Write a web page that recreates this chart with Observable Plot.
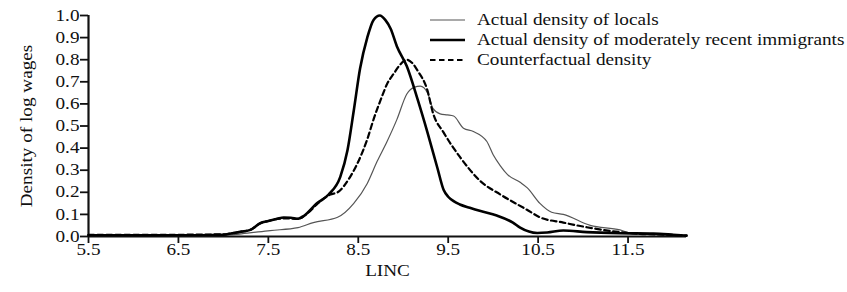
<!DOCTYPE html>
<html>
<head>
<meta charset="utf-8">
<script src="https://cdn.jsdelivr.net/npm/d3@7"></script>
<script src="https://cdn.jsdelivr.net/npm/@observablehq/plot@0.6"></script>
<style>
  html, body { margin: 0; padding: 0; background: #fff; }
  #wrap { position: relative; width: 847px; height: 292px; font-family: "Liberation Serif", "Times New Roman", serif; }
  #legend { position: absolute; left: 430px; top: 10px; }
  .row { position: absolute; left: 0; height: 20px; white-space: nowrap; }
  .row svg { position: absolute; left: 0; top: 0; }
  .row span { position: absolute; left: 47px; top: 0; font-size: 16px; line-height: 20px; color: #111;
              display: inline-block; transform: scaleX(1.2); transform-origin: left center; }
</style>
</head>
<body>
<div id="wrap"></div>
<script>
// ---- data ----
const xTicks = [5.5, 6.5, 7.5, 8.5, 9.5, 10.5, 11.5];
const yTicks = [0, 0.1, 0.2, 0.3, 0.4, 0.5, 0.6, 0.7, 0.8, 0.9, 1.0];
const seriesNames = [
  "Actual density of locals",
  "Actual density of moderately recent immigrants",
  "Counterfactual density"
];

const localsX = [5.5, 6.5, 7.0, 7.2, 7.52, 7.83, 8.0, 8.27, 8.45, 8.6, 8.71, 8.82, 8.93, 9.04, 9.12, 9.19, 9.27, 9.33, 9.41, 9.49, 9.56, 9.67, 9.78, 9.93, 10.0, 10.08, 10.16, 10.3, 10.38, 10.52, 10.65, 10.78, 11.08, 11.41, 11.55, 12.0, 12.15];
const localsY = [0.003, 0.003, 0.005, 0.012, 0.027, 0.04, 0.063, 0.087, 0.15, 0.24, 0.34, 0.43, 0.53, 0.645, 0.675, 0.68, 0.65, 0.58, 0.555, 0.55, 0.545, 0.49, 0.475, 0.43, 0.37, 0.32, 0.28, 0.245, 0.22, 0.15, 0.11, 0.1, 0.05, 0.03, 0.013, 0.006, 0.003];

const immX = [5.5, 6.0, 6.5, 7.0, 7.1, 7.2, 7.3, 7.41, 7.5, 7.6, 7.67, 7.75, 7.83, 7.9, 8.04, 8.17, 8.3, 8.38, 8.45, 8.52, 8.6, 8.67, 8.74, 8.8, 8.86, 8.93, 9.04, 9.16, 9.27, 9.38, 9.45, 9.5, 9.56, 9.63, 9.74, 9.86, 10.04, 10.22, 10.3, 10.49, 10.6, 10.78, 11.04, 11.41, 11.78, 12.0, 12.15];
const immY = [0.005, 0.005, 0.005, 0.008, 0.015, 0.022, 0.03, 0.06, 0.07, 0.08, 0.086, 0.085, 0.08, 0.095, 0.15, 0.19, 0.27, 0.39, 0.57, 0.76, 0.9, 0.98, 1.0, 0.98, 0.94, 0.86, 0.77, 0.62, 0.47, 0.31, 0.21, 0.18, 0.16, 0.145, 0.13, 0.115, 0.095, 0.063, 0.04, 0.016, 0.018, 0.027, 0.02, 0.015, 0.013, 0.008, 0.004];

const cfX = [5.5, 6.5, 7.0, 7.1, 7.2, 7.3, 7.41, 7.5, 7.6, 7.7, 7.83, 7.95, 8.05, 8.19, 8.27, 8.41, 8.49, 8.6, 8.67, 8.76, 8.82, 8.9, 8.96, 9.04, 9.1, 9.16, 9.27, 9.33, 9.45, 9.63, 9.86, 10.08, 10.38, 10.52, 10.78, 11.04, 11.41, 11.6, 12.0, 12.15];
const cfY = [0.008, 0.008, 0.01, 0.015, 0.022, 0.03, 0.06, 0.07, 0.08, 0.082, 0.08, 0.11, 0.15, 0.19, 0.2, 0.27, 0.33, 0.44, 0.53, 0.63, 0.69, 0.74, 0.775, 0.8, 0.785, 0.75, 0.66, 0.56, 0.47, 0.36, 0.25, 0.19, 0.12, 0.087, 0.063, 0.042, 0.02, 0.013, 0.007, 0.004];

const toRows = (xs, ys) => xs.map((x, i) => ({x, y: ys[i]}));
const locals = toRows(localsX, localsY);
const immigrants = toRows(immX, immY);
const counterfactual = toRows(cfX, cfY);

const styles = [
  {stroke: "#555", strokeWidth: 1.2, dash: null},
  {stroke: "#000", strokeWidth: 2.6, dash: null},
  {stroke: "#000", strokeWidth: 2.2, dash: "5.5,3.5"}
];

const chart = Plot.plot({
  width: 847,
  height: 292,
  marginLeft: 88,
  marginTop: 15,
  marginBottom: 56,
  marginRight: 161,
  style: {fontFamily: "Liberation Serif, Times New Roman, serif", fontSize: "16px", background: "#fff", color: "#111", overflow: "visible"},
  x: {domain: [5.5, 12.15]},
  y: {domain: [0, 1]},
  marks: [
    Plot.axisX({ticks: xTicks, tickFormat: d => d.toFixed(1), tickSize: 7, tickPadding: 0, strokeWidth: 1.8,
      label: "LINC", labelAnchor: "center", labelArrow: "none", labelOffset: 39}),
    Plot.axisY({ticks: yTicks, tickFormat: d => d.toFixed(1), tickSize: 8, tickPadding: 1, strokeWidth: 1.8,
      label: "Density of log wages", labelAnchor: "center", labelArrow: "none", labelOffset: 68}),
    Plot.ruleX([5.5], {y1: 0, y2: 1, strokeWidth: 2.2}),
    Plot.ruleY([0], {x1: 5.5, x2: 12.15, strokeWidth: 2.2}),
    Plot.line(locals, {x: "x", y: "y", stroke: styles[0].stroke, strokeWidth: styles[0].strokeWidth, curve: "monotone-x"}),
    Plot.line(counterfactual, {x: "x", y: "y", stroke: styles[2].stroke, strokeWidth: styles[2].strokeWidth, strokeDasharray: styles[2].dash, curve: "monotone-x"}),
    Plot.line(immigrants, {x: "x", y: "y", stroke: styles[1].stroke, strokeWidth: styles[1].strokeWidth, curve: "monotone-x"})
  ]
});

// widen glyphs horizontally about each text's anchor (reference typeface is wider than Times)
chart.querySelectorAll("text").forEach(t => {
  const tr = t.getAttribute("transform") || "";
  t.setAttribute("transform", `${tr} scale(1.2,1)`);
});

const wrap = document.getElementById("wrap");
wrap.appendChild(chart);

// legend
const legend = document.createElement("div");
legend.id = "legend";
seriesNames.forEach((name, i) => {
  const row = document.createElement("div");
  row.className = "row";
  row.style.top = (i * 20) + "px";
  const s = styles[i];
  row.innerHTML = `<svg width="40" height="20"><line x1="0" x2="35" y1="10" y2="10" stroke="${s.stroke}" stroke-width="${s.strokeWidth}" ${s.dash ? `stroke-dasharray="${s.dash}"` : ""}/></svg><span>${name}</span>`;
  legend.appendChild(row);
});
wrap.appendChild(legend);
</script>
</body>
</html>
